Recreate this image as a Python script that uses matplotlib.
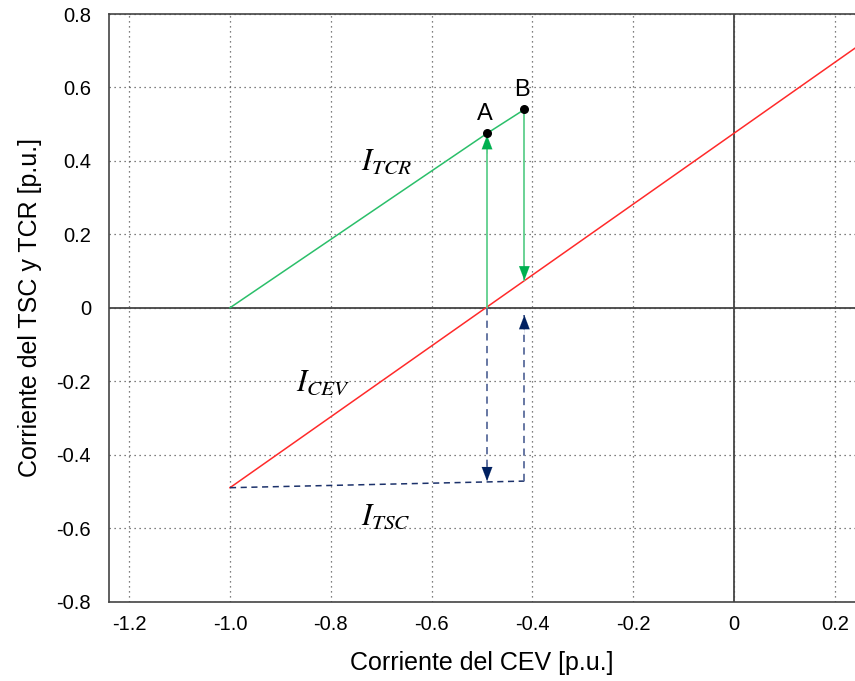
import numpy as np
import matplotlib.pyplot as plt

plt.rcParams['font.family'] = ['Liberation Sans', 'DejaVu Sans']
plt.rcParams['mathtext.fontset'] = 'stix'

# Data
cev_x = [-1.0, 0.24]
cev_y = [-0.49, 0.707]
tcr_x = [-1.0, -0.49, -0.416]
tcr_y = [0.0, 0.475, 0.54]
tsc_x = [-1.0, -0.416]
tsc_y = [-0.49, -0.472]
pts_x = [-0.49, -0.416]
pts_y = [0.475, 0.54]
pts_lab = ['A', 'B']
xticks = [-1.2, -1.0, -0.8, -0.6, -0.4, -0.2, 0, 0.2]
xtick_lab = ['-1.2', '-1.0', '-0.8', '-0.6', '-0.4', '-0.2', '0', '0.2']
yticks = [-0.8, -0.6, -0.4, -0.2, 0, 0.2, 0.4, 0.6, 0.8]
ytick_lab = ['-0.8', '-0.6', '-0.4', '-0.2', '0', '0.2', '0.4', '0.6', '0.8']

fig = plt.figure(figsize=(8.55, 6.81), dpi=100)
ax = fig.add_axes([0.1275, 0.1167, 0.8725, 0.8627])

ax.set_xlim(-1.24, 0.24)
ax.set_ylim(-0.8, 0.8)
ax.set_xticks(xticks)
ax.set_xticklabels(xtick_lab)
ax.set_yticks(yticks)
ax.set_yticklabels(ytick_lab)
ax.tick_params(length=0, labelsize=14.5)
ax.tick_params(axis='x', pad=10)
ax.tick_params(axis='y', pad=13)
ax.grid(True, linestyle=(0, (1, 3)), color='#555555', linewidth=0.9)
ax.set_axisbelow(True)
ax.spines['right'].set_visible(False)
for s in ['left', 'top', 'bottom']:
    ax.spines[s].set_color('#444444')
    ax.spines[s].set_linewidth(1.2)

ax.axhline(0, color='#444444', linewidth=1.3, zorder=1)
ax.axvline(0, color='#444444', linewidth=1.3, zorder=1)

# lines
ax.plot(cev_x, cev_y, color='#ff2a2a', linewidth=1.1, zorder=3)
ax.plot(tcr_x, tcr_y, color='#2bbf6a', linewidth=1.1, zorder=3)
ax.plot(tsc_x, tsc_y, color='#1c326b', linewidth=1.1, linestyle=(0, (4, 3)), zorder=3)

# vertical shafts
g_tip_up = pts_y[0] - 0.005
g_tip_dn = 0.075
b_tip_dn = tsc_y[1]
b_tip_up = -0.02
ax.plot([pts_x[0], pts_x[0]], [0, g_tip_up], color='#5fcf8c', linewidth=1.3, zorder=3)
ax.plot([pts_x[1], pts_x[1]], [pts_y[1], g_tip_dn], color='#5fcf8c', linewidth=1.3, zorder=3)
ax.plot([pts_x[0], pts_x[0]], [0, b_tip_dn], color='#5a6c9c', linewidth=1.3,
        linestyle=(0, (4, 3)), zorder=3)
ax.plot([pts_x[1], pts_x[1]], [tsc_y[1], b_tip_up], color='#5a6c9c', linewidth=1.3,
        linestyle=(0, (4, 3)), zorder=3)

# arrow heads
def head(x, y_tip, direction, color):
    ax.annotate('', xy=(x, y_tip), xytext=(x, y_tip - direction * 0.05),
                arrowprops=dict(arrowstyle='-|>,head_length=1.0,head_width=0.38',
                                color=color, linewidth=0.1, shrinkA=0, shrinkB=0),
                zorder=4)

head(pts_x[0], g_tip_up, 1, '#00b050')
head(pts_x[1], g_tip_dn, -1, '#00b050')
head(pts_x[0], b_tip_dn, -1, '#002060')
head(pts_x[1], b_tip_up, 1, '#002060')

# points A, B
ax.scatter(pts_x, pts_y, color='black', s=30, zorder=5)
for px, py, lab in zip(pts_x, pts_y, pts_lab):
    ax.text(px - 0.004, py + 0.022, lab, fontsize=17, ha='center', va='bottom', zorder=6)

# current labels
ax.text(-0.74, 0.375, r'$I_{TCR}$', fontsize=22, zorder=6)
ax.text(-0.87, -0.225, r'$I_{CEV}$', fontsize=22, zorder=6)
ax.text(-0.74, -0.59, r'$I_{TSC}$', fontsize=22, zorder=6)

ax.set_xlabel('Corriente del CEV [p.u.]', fontsize=18, labelpad=12)
ax.set_ylabel('Corriente del TSC y TCR [p.u.]', fontsize=18, labelpad=10)

fig.savefig('out.png', dpi=100)
